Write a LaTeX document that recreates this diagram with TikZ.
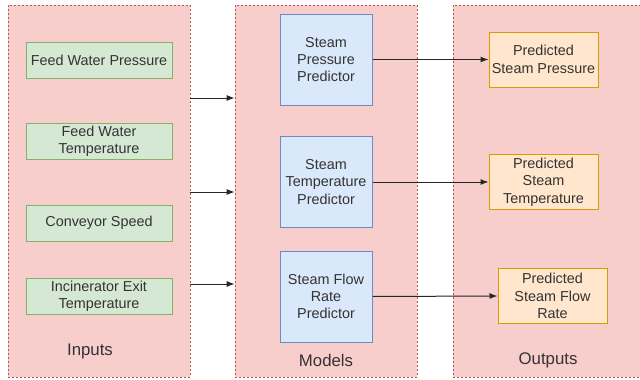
\documentclass[tikz,border=0pt]{standalone}
\usepackage{fontspec}
\setmainfont{Liberation Sans}
\usetikzlibrary{arrows.meta}
\definecolor{contfill}{HTML}{F8CECC}
\definecolor{contdraw}{HTML}{B85450}
\definecolor{gfill}{HTML}{D5E8D4}
\definecolor{gdraw}{HTML}{82B366}
\definecolor{bfill}{HTML}{DAE8FC}
\definecolor{bdraw}{HTML}{6C8EBF}
\definecolor{ofill}{HTML}{FFE6CC}
\definecolor{odraw}{HTML}{D79B00}
\definecolor{txt}{HTML}{333333}
\tikzset{
  container/.style={fill=contfill, draw=contdraw, dash pattern=on 2pt off 2pt, line width=0.7pt, rectangle, inner sep=0pt},
  boxtext/.style={text=txt, font=\fontsize{14.4}{17.3}\selectfont, align=center, inner sep=0pt},
  inbox/.style={boxtext, fill=gfill, draw=gdraw, line width=1pt, minimum width=146pt, minimum height=36pt},
  modbox/.style={boxtext, fill=bfill, draw=bdraw, line width=1pt, minimum width=92pt, minimum height=91pt},
  outbox/.style={boxtext, fill=ofill, draw=odraw, line width=1pt, minimum width=109pt, minimum height=55pt},
  grouplabel/.style={text=txt, font=\fontsize{16.8}{20}\selectfont, inner sep=0pt},
  conn/.style={-{Latex[length=8pt,width=6pt]}, line width=1pt, draw=black!85}
}
\begin{document}
\begin{tikzpicture}[x=1pt,y=-1pt]
\useasboundingbox (0,0) rectangle (640,380);
\clip (0,0) rectangle (640,380);
\fill[white] (0,0) rectangle (640,380);
% containers
\node[container, minimum width=182pt, minimum height=372pt] (inputs) at (99,191) {};
\node[container, minimum width=182pt, minimum height=372pt] (models) at (326,191) {};
\node[container, minimum width=192pt, minimum height=372pt] (outputs) at (549,191) {};
% inputs
\node[inbox] (fwp) at (99,60) {Feed Water Pressure};
\node[inbox] (fwt) at (99,141) {Feed Water\\Temperature};
\node[inbox] (cs) at (99,223) {Conveyor Speed};
\node[inbox] (iet) at (99,296) {Incinerator Exit\\Temperature};
\node[grouplabel] (inlabel) at (90,351) {Inputs};
% models
\node[modbox] (spp) at (326,59.5) {Steam\\Pressure\\Predictor};
\node[modbox] (stp) at (326,182) {Steam\\Temperature\\Predictor};
\node[modbox] (sfp) at (326,296.5) {Steam Flow\\Rate\\Predictor};
\node[grouplabel] (modlabel) at (326,360) {Models};
% outputs
\node[outbox] (psp) at (543.5,59.5) {Predicted\\Steam Pressure};
\node[outbox] (pst) at (543.5,182) {Predicted\\Steam\\Temperature};
\node[outbox] (psf) at (552.5,296) {Predicted\\Steam Flow\\Rate};
\node[grouplabel] (outlabel) at (548,360) {Outputs};
% connectors inputs -> models
\coordinate (ya) at (0,98);
\coordinate (yb) at (0,192);
\coordinate (yc) at (0,284);
\draw[conn] (inputs.east |- ya) -- (models.west |- ya);
\draw[conn] (inputs.east |- yb) -- (models.west |- yb);
\draw[conn] (inputs.east |- yc) -- (models.west |- yc);
% connectors models -> outputs
\draw[conn] (spp.east) -- (psp.west);
\draw[conn] (stp.east) -- (pst.west);
\draw[conn] (sfp.east) -- (psf.west);
\end{tikzpicture}
\end{document}
